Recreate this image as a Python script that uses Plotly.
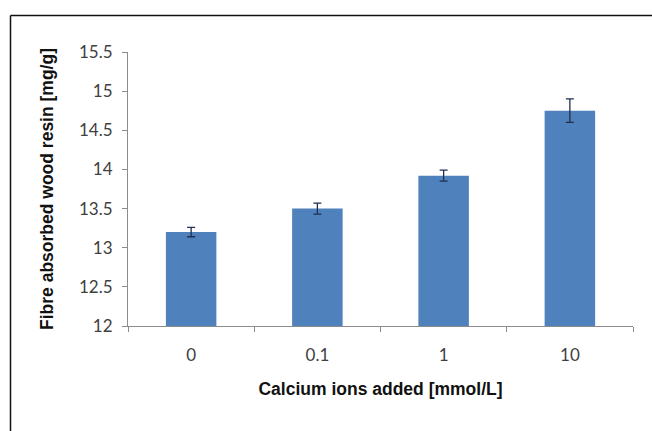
import plotly.graph_objects as go

# Calcium addition levels and absorbed resin (mean ± error)
categories = ["0", "0.1", "1", "10"]
resin_mg_per_g = [13.2, 13.5, 13.92, 14.75]
resin_error = [0.06, 0.07, 0.07, 0.15]

W, H = 652, 431
L, R, T, B = 128, 19, 52, 105
pw, ph = W - L - R, H - T - B


def px_x(px):
    return (px - L) / pw


def px_y(py):
    return (H - B - py) / ph


fig = go.Figure()
fig.add_trace(go.Bar(
    x=categories,
    y=resin_mg_per_g,
    width=0.4,
    marker=dict(color="#4F81BD", line=dict(width=0)),
    error_y=dict(type="data", array=resin_error, visible=True,
                 color="#1F2F4F", thickness=1.3, width=4),
))

axis_color = "#8C8C8C"
tick_font = dict(family="Lato, Open Sans, sans-serif", size=17, color="#404040")
title_font = dict(family="Liberation Sans, Arial, sans-serif", size=17.5, color="#111111")

fig.update_layout(
    width=W, height=H,
    margin=dict(l=L, r=R, t=T, b=B),
    paper_bgcolor="white", plot_bgcolor="white",
    showlegend=False,
    xaxis=dict(
        type="category",
        showline=True, linecolor=axis_color, linewidth=1,
        ticks="outside", tickson="boundaries", ticklen=5, tickcolor=axis_color,
        showgrid=False, tickfont=tick_font, ticklabelstandoff=14,
        title=dict(text="<b>Calcium ions added [mmol/L]</b>", font=title_font, standoff=18),
    ),
    yaxis=dict(
        range=[12, 15.5], dtick=0.5, tick0=12,
        showline=True, linecolor=axis_color, linewidth=1,
        ticks="outside", ticklen=5, tickcolor=axis_color,
        showgrid=False, zeroline=False, tickfont=tick_font,
        ticklabelstandoff=6,
        title=dict(text="<b>Fibre absorbed wood resin [mg/g]</b>", font=title_font, standoff=20),
    ),
)

# Outer frame lines along the top and left edges
fig.add_shape(type="line", xref="paper", yref="paper",
              x0=px_x(10.5), x1=px_x(W + 5), y0=px_y(15.5), y1=px_y(15.5),
              line=dict(color="#111111", width=1.5))
fig.add_shape(type="line", xref="paper", yref="paper",
              x0=px_x(10.5), x1=px_x(10.5), y0=px_y(15.5), y1=px_y(H + 5),
              line=dict(color="#111111", width=1.5))

fig.write_html("out.html")
